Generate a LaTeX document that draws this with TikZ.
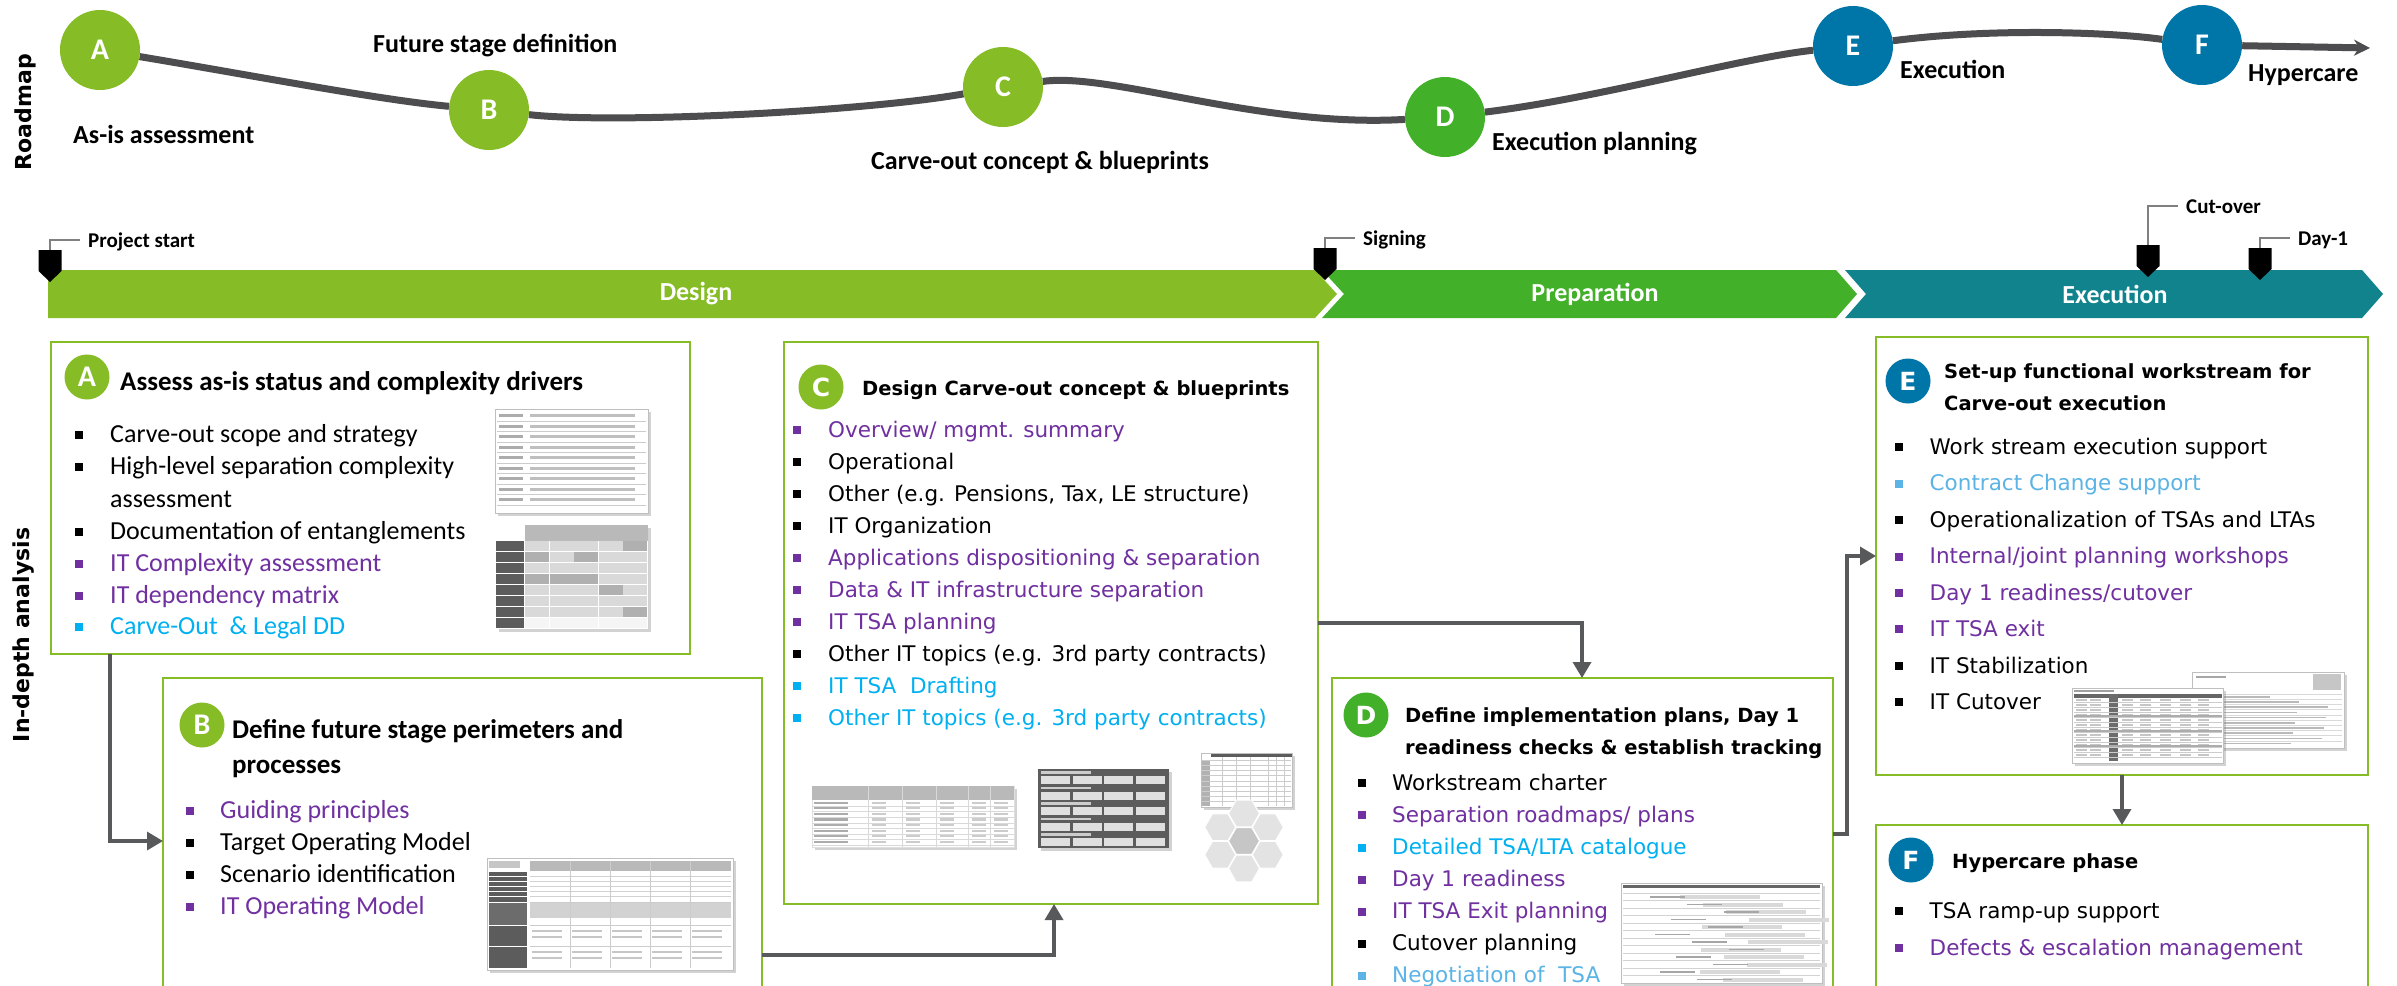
\documentclass[tikz,border=0pt]{standalone}
\usepackage{fontspec}
\setmainfont{Carlito}
\newfontfamily\verd{DejaVu Sans}
\usetikzlibrary{arrows.meta,shapes.geometric,shadows}
\definecolor{dgreen}{HTML}{86BC25}
\definecolor{mgreen}{HTML}{43B02A}
\definecolor{dblue}{HTML}{0076A8}
\definecolor{execteal}{HTML}{10838C}
\definecolor{purp}{HTML}{7030A0}
\definecolor{cyanb}{HTML}{00B0F0}
\definecolor{lblue}{HTML}{5BB4E5}
\definecolor{linegray}{HTML}{4D4D4F}
\definecolor{connc}{HTML}{58595B}
\colorlet{celll}{gray!30}
\colorlet{celld}{gray!62}
\colorlet{cellw}{gray!8}
\newcommand\bitem[7]{\node[bul, fill=#5] (#1b) at (#2,#4) {}; \node[#6, text=#5] (#1) at (#3,#4) {#7};}
\begin{document}
\begin{tikzpicture}[x=1pt,y=-1pt,
  sidetitle/.style={inner sep=0, font=\verd\bfseries\fontsize{22}{26}\selectfont},
  rmcirc/.style={circle, minimum size=80pt, inner sep=0, text=white, font=\bfseries\fontsize{30}{30}\selectfont},
  rmlabel/.style={anchor=west, inner sep=0, text height=18pt, text depth=3pt, font=\bfseries\fontsize{26}{30}\selectfont},
  roadline/.style={line width=7pt, draw=linegray},
  phase/.style={inner sep=0, text=white, font=\bfseries\fontsize{26}{30}\selectfont},
  mslabel/.style={anchor=west, inner sep=0, text height=15pt, text depth=3pt, font=\bfseries\fontsize{21}{24}\selectfont},
  leader/.style={draw=gray, line width=1.5pt},
  box/.style={draw=dgreen, line width=2pt, anchor=north west, inner sep=0, outer sep=0},
  conn/.style={draw=connc, line width=3.5pt, -{Triangle[length=16pt,width=18pt]}},
  lcirc/.style={circle, minimum size=45pt, inner sep=0, text=white},
  lcal/.style={lcirc, font=\bfseries\fontsize{30}{30}\selectfont},
  lver/.style={lcirc, font=\verd\bfseries\fontsize{25}{25}\selectfont},
  titleCal/.style={anchor=west, inner sep=0, text height=19pt, text depth=3pt, font=\bfseries\fontsize{27}{30}\selectfont},
  titleV/.style={anchor=west, inner sep=0, text height=14pt, text depth=2pt, font=\verd\bfseries\fontsize{19.5}{24}\selectfont},
  itCal/.style={anchor=west, inner sep=0, text height=18pt, text depth=3pt, font=\fontsize{26}{30}\selectfont},
  itV/.style={anchor=west, inner sep=0, text height=16pt, text depth=2pt, font=\verd\fontsize{21.5}{26}\selectfont},
  bul/.style={rectangle, minimum size=8pt, inner sep=0},
  thumb/.style={draw=gray!50, fill=white, line width=0.6pt, anchor=north west, inner sep=0,
     drop shadow={opacity=0.35, shadow xshift=3pt, shadow yshift=-3pt}},
  darkthumb/.style={fill=gray!72!black, anchor=north west, inner sep=0,
     drop shadow={opacity=0.35, shadow xshift=3pt, shadow yshift=-3pt}},
  hexa/.style={regular polygon, regular polygon sides=6, minimum size=31pt, inner sep=0, fill=gray!22, draw=white, line width=1pt}
]
\useasboundingbox (0,0) rectangle (2397,985);
\fill[white] (0,0) rectangle (2397,985);

% ---------- side titles
\node[sidetitle, rotate=90] (tRoad) at (25,112) {Roadmap};
\node[sidetitle, rotate=90] (tDepth) at (24,635) {In-depth analysis};

% ---------- roadmap
\node[rmcirc, fill=dgreen] (rA) at (100,50) {A};
\node[rmcirc, fill=dgreen] (rB) at (489,110) {B};
\node[rmcirc, fill=dgreen] (rC) at (1003,87) {C};
\node[rmcirc, fill=mgreen] (rD) at (1445,117) {D};
\node[rmcirc, fill=dblue] (rE) at (1853,46) {E};
\node[rmcirc, fill=dblue] (rF) at (2202,45) {F};
\coordinate (rEnd) at (2370,48);
\draw[roadline] (rA) .. controls (250,75) and (380,100) .. (rB);
\draw[roadline] (rB) .. controls (610,124) and (860,112) .. (rC);
\draw[roadline] (rC) .. controls (1110,72) and (1260,128) .. (rD);
\draw[roadline] (rD) .. controls (1600,98) and (1740,58) .. (rE);
\draw[roadline] (rE) .. controls (1990,28) and (2110,32) .. (rF);
\draw[roadline, -{Stealth[length=16pt,width=16pt]}] (rF) -- (rEnd);

\node[rmlabel] (lA) at (73,136) {As-is assessment};
\node[rmlabel] (lB) at (373,45) {Future stage definition};
\node[rmlabel] (lC) at (871,162) {Carve-out concept \& blueprints};
\node[rmlabel] (lD) at (1492,143) {Execution planning};
\node[rmlabel] (lE) at (1900,71) {Execution};
\node[rmlabel] (lF) at (2248,74) {Hypercare};

% ---------- phase bar
\fill[dgreen] (48,270) -- (1315,270) -- (1337,294) -- (1315,318) -- (48,318) -- cycle;
\fill[mgreen] (1322,270) -- (1836,270) -- (1857,294) -- (1836,318) -- (1322,318) -- (1344,294) -- cycle;
\fill[execteal] (1845,270) -- (2362,270) -- (2383,294) -- (2362,318) -- (1845,318) -- (1866,294) -- cycle;
\node[phase] (pDesign) at (696,294) {Design};
\node[phase] (pPrep) at (1595,294) {Preparation};
\node[phase] (pExec) at (2115,294) {Execution};

% ---------- milestones
\foreach \nm/\x/\yt/\yl/\lab in {ps/50/250/240/Project start, sg/1325/248/238/Signing, co/2148/245/206/Cut-over, d1/2260/248/238/Day-1}
{
  \fill[black] ({\x-11.5},\yt) -- ({\x+11.5},\yt) -- ({\x+11.5},{\yt+21}) -- (\x,{\yt+32}) -- ({\x-11.5},{\yt+21}) -- cycle;
  \draw[leader] (\x,\yt) -- (\x,\yl) -- ({\x+30},\yl);
  \node[mslabel] (m\nm) at ({\x+38},{\yl+1}) {\lab};
}

% ---------- boxes
\node[box, minimum width=639pt, minimum height=312pt] (boxA) at (51,342) {};
\node[box, minimum width=599pt, minimum height=330pt] (boxB) at (163,678) {};
\node[box, minimum width=534pt, minimum height=562pt] (boxC) at (784,342) {};
\node[box, minimum width=501pt, minimum height=330pt] (boxD) at (1332,678) {};
\node[box, minimum width=492pt, minimum height=438pt] (boxE) at (1876,337) {};
\node[box, minimum width=492pt, minimum height=180pt] (boxF) at (1876,825) {};

% ---------- connectors
\draw[conn] ([xshift=59pt]boxA.south west) |- (boxB.west |- 0,841);
\draw[conn] (boxB.east |- 0,955) -| (boxC.south -| 1054,0);
\draw[conn] (boxC.east |- 0,623) -| (boxD.north -| 1582,0);
\draw[conn] (boxD.east |- 0,834) -- ++(14,0) |- (boxE.west |- 0,556);
\draw[conn] (boxE.south -| 2122,0) -- (boxF.north -| 2122,0);

% ---------- box A
\node[lcal, fill=dgreen] (cA) at (87,377) {A};
\node[titleCal] (tA) at (120,382) {Assess as-is status and complexity drivers};
\bitem{a1}{79}{110}{435}{black}{itCal}{Carve-out scope and strategy}
\bitem{a2}{79}{110}{467}{black}{itCal}{High-level separation complexity}
\node[itCal] (a2c) at (110,499.5) {assessment};
\bitem{a3}{79}{110}{532}{black}{itCal}{Documentation of entanglements}
\bitem{a4}{79}{110}{563.5}{purp}{itCal}{IT Complexity assessment}
\bitem{a5}{79}{110}{596}{purp}{itCal}{IT dependency matrix}
\bitem{a6}{79}{110}{627}{cyanb}{itCal}{Carve-Out \ \& Legal DD}

% thumbnails A
\node[thumb, minimum width=153pt, minimum height=104pt] (thA1) at (495,409) {};
\foreach \k in {0,...,8}{
  \draw[gray!40, line width=0.5pt] (497,{421+\k*10.5}) -- (646,{421+\k*10.5});
  \fill[gray!65] (499,{414+\k*10.5}) rectangle ++(24,3);
  \fill[gray!50] (530,{414+\k*10.5}) rectangle ++(105,3);
}
\node[thumb, draw=none, minimum width=152pt, minimum height=104pt] (thA2) at (496,525) {};
\fill[gray!55] (525,525) rectangle (648,541);
\foreach \r/\a/\b/\c/\d/\e in {1/l/l/l/l/d, 2/d/l/d/l/l, 3/l/l/l/l/l, 4/d/d/d/l/l, 5/l/l/l/d/l, 6/l/l/l/l/l, 7/l/l/l/l/d, 8/w/w/w/w/w}{
  \fill[gray!72!black] (496,{541+(\r-1)*11}) rectangle (524,{551+(\r-1)*11});
  \fill[cell\a] (525,{541+(\r-1)*11}) rectangle ++(24,10);
  \fill[cell\b] (549.6,{541+(\r-1)*11}) rectangle ++(24,10);
  \fill[cell\c] (574.2,{541+(\r-1)*11}) rectangle ++(24,10);
  \fill[cell\d] (598.8,{541+(\r-1)*11}) rectangle ++(24,10);
  \fill[cell\e] (623.4,{541+(\r-1)*11}) rectangle ++(24,10);
}

% ---------- box B
\node[lcal, fill=dgreen] (cB) at (202,725) {B};
\node[titleCal] (tB1) at (232,730) {Define future stage perimeters and};
\node[titleCal] (tB2) at (232,765) {processes};
\bitem{b1}{190}{220}{811}{purp}{itCal}{Guiding principles}
\bitem{b2}{190}{220}{843}{black}{itCal}{Target Operating Model}
\bitem{b3}{190}{220}{875}{black}{itCal}{Scenario identification}
\bitem{b4}{190}{220}{907}{purp}{itCal}{IT Operating Model}

\node[thumb, minimum width=246pt, minimum height=112pt] (thB) at (487,858) {};
\fill[gray!72!black] (489,872) rectangle (527,968);
\fill[gray!45] (489,861) rectangle (520,868);
\fill[gray!55] (530,861) rectangle (731,871);
\foreach \yy in {876,881,886,891,896}{\draw[white, line width=0.6pt] (489,\yy) -- (527,\yy); \draw[gray!35, line width=0.5pt] (530,\yy) -- (731,\yy);}
\fill[gray!85!black] (489,902) rectangle (527,925);
\fill[gray!35] (530,902) rectangle (731,918);
\foreach \yy in {902,925,946}{\draw[white, line width=1pt] (489,\yy) -- (527,\yy); \draw[gray!40, line width=0.5pt] (530,\yy) -- (731,\yy);}
\foreach \xx in {570,610,650,690}{\draw[gray!40, line width=0.5pt] (\xx,861) -- (\xx,968);}
\foreach \yy in {930,936,951,957}{\foreach \xx in {532,572,612,652,692}{\fill[gray!45] (\xx,\yy) rectangle ++(30,2);}}

% ---------- box C
\node[lver, fill=dgreen] (cC) at (821,387) {C};
\node[titleV] (tC) at (862,389) {Design Carve-out concept \& blueprints};
\bitem{c1}{797}{828}{430}{purp}{itV}{Overview/ mgmt. summary}
\bitem{c2}{797}{828}{462}{black}{itV}{Operational}
\bitem{c3}{797}{828}{494}{black}{itV}{Other (e.g. Pensions, Tax, LE structure)}
\bitem{c4}{797}{828}{526}{black}{itV}{IT Organization}
\bitem{c5}{797}{828}{558}{purp}{itV}{Applications dispositioning \& separation}
\bitem{c6}{797}{828}{590}{purp}{itV}{Data \& IT infrastructure separation}
\bitem{c7}{797}{828}{622}{purp}{itV}{IT TSA planning}
\bitem{c8}{797}{828}{654}{black}{itV}{Other IT topics (e.g. 3rd party contracts)}
\bitem{c9}{797}{828}{686}{cyanb}{itV}{IT TSA \ Drafting}
\bitem{c10}{797}{828}{718}{cyanb}{itV}{Other IT topics (e.g. 3rd party contracts)}

% thumbnails C
\node[thumb, draw=gray!25, minimum width=202pt, minimum height=61pt] (thC1) at (812,786) {};
\fill[gray!55] (812,786) rectangle (1014,800);
\foreach \k in {0,...,7}{
  \draw[gray!30, line width=0.5pt] (812,{806+\k*5.6}) -- (1014,{806+\k*5.6});
  \fill[gray!65] (814,{801.5+\k*5.6}) rectangle ++(34,2.2);
  \foreach \xx in {872,906,940,972,994}{\fill[gray!40] (\xx,{801.5+\k*5.6}) rectangle ++(14,2.2);}
}
\foreach \xx in {868,902,936,968,990}{\draw[gray!30, line width=0.5pt] (\xx,786) -- (\xx,847);}

\node[darkthumb, minimum width=131pt, minimum height=79pt] (thC2) at (1038,769) {};
\foreach \s in {0,...,4}{
  \fill[gray!40] (1041,{771+\s*15.6}) rectangle ++(50,2.5);
  \foreach \j in {0,...,3}{\fill[gray!25] ({1041+\j*31.6},{776+\s*15.6}) rectangle ++(29,8);}
}
\node[thumb, minimum width=91pt, minimum height=54pt] (thC3) at (1201,753) {};
\fill[gray!72!black] (1211,754) rectangle (1292,757);
\fill[gray!60] (1202,760) rectangle (1210,806);
\foreach \k in {0,...,8}{\draw[gray!40, line width=0.4pt] (1202,{760+\k*5.2}) -- (1291,{760+\k*5.2});}
\foreach \xx in {1222,1236,1250,1268,1276,1284}{\draw[gray!40, line width=0.4pt] (\xx,757) -- (\xx,806);}
\node[hexa, fill=gray!45] (hx0) at (1244,841) {};
\foreach \ang/\nm in {90/1,30/2,-30/3,-90/4,-150/5,150/6}{
  \node[hexa] (hx\nm) at ([shift={(\ang:27.5)}]1244,841) {};
}

% ---------- box D
\node[lver, fill=mgreen] (cD) at (1366,715) {D};
\node[titleV] (tD1) at (1405,716) {Define implementation plans, Day 1};
\node[titleV] (tD2) at (1405,748) {readiness checks \& establish tracking};
\bitem{d1}{1362}{1392}{783}{black}{itV}{Workstream charter}
\bitem{d2}{1362}{1392}{815}{purp}{itV}{Separation roadmaps/ plans}
\bitem{d3}{1362}{1392}{847.5}{cyanb}{itV}{Detailed TSA/LTA catalogue}
\bitem{d4}{1362}{1392}{879.5}{purp}{itV}{Day 1 readiness}
\bitem{d5}{1362}{1392}{911.5}{purp}{itV}{IT TSA Exit planning}
\bitem{d6}{1362}{1392}{943.5}{black}{itV}{Cutover planning}
\bitem{d7}{1362}{1392}{975.5}{lblue}{itV}{Negotiation of \ TSA}

\node[thumb, minimum width=201pt, minimum height=100pt] (thD) at (1621,883) {};
\fill[gray!80!black] (1623,885) rectangle (1820,888);
\foreach \k in {0,...,11}{
  \draw[gray!35, line width=0.4pt] (1623,{893+\k*7.5}) -- (1820,{893+\k*7.5});
  \fill[gray!30] ({1680+mod(\k*23,70)},{895+\k*7.5}) rectangle ++(80,4);
  \fill[gray!70] ({1650+mod(\k*37,90)},{896+\k*7.5}) rectangle ++(35,1.6);
}

% ---------- box E
\node[lver, fill=dblue] (cE) at (1908,381) {E};
\node[titleV] (tE1) at (1944,372) {Set-up functional workstream for};
\node[titleV] (tE2) at (1944,404.5) {Carve-out execution};
\bitem{e1}{1899}{1929.5}{447}{black}{itV}{Work stream execution support}
\bitem{e2}{1899}{1929.5}{483.5}{lblue}{itV}{Contract Change support}
\bitem{e3}{1899}{1929.5}{520}{black}{itV}{Operationalization of TSAs and LTAs}
\bitem{e4}{1899}{1929.5}{556.5}{purp}{itV}{Internal/joint planning workshops}
\bitem{e5}{1899}{1929.5}{593}{purp}{itV}{Day 1 readiness/cutover}
\bitem{e6}{1899}{1929.5}{629}{purp}{itV}{IT TSA exit}
\bitem{e7}{1899}{1929.5}{666}{black}{itV}{IT Stabilization}
\bitem{e8}{1899}{1929.5}{702}{black}{itV}{IT Cutover}

\node[thumb, minimum width=152pt, minimum height=76pt] (thE1) at (2192,672) {};
\fill[gray!70] (2196,676) rectangle ++(30,2);
\fill[gray!45] (2313,674) rectangle (2341,690);
\foreach \k in {0,...,9}{
  \draw[gray!30, line width=0.4pt] (2194,{694+\k*5.2}) -- (2342,{694+\k*5.2});
  \fill[gray!55] (2220,{696+\k*5.2}) rectangle ++({50+mod(\k*29,60)},1.5);
}
\node[thumb, minimum width=151pt, minimum height=75pt] (thE2) at (2072,688) {};
\fill[gray!75] (2074,690) rectangle ++(40,2);
\fill[gray!80!black] (2074,694) rectangle (2222,698);
\fill[gray!85!black] (2109,694) rectangle (2118,761);
\foreach \k in {0,...,11}{
  \draw[gray!40, line width=0.4pt] (2074,{702+\k*5}) -- (2222,{702+\k*5});
  \foreach \xx in {2076,2090,2122,2140,2160,2180,2198}{\fill[gray!45] (\xx,{699+\k*5}) rectangle ++(11,1.6);}
}
\foreach \k in {3,6,9}{\fill[gray!65] (2074,{700+\k*5}) rectangle (2222,{702+\k*5});}

% ---------- box F
\node[lver, fill=dblue] (cF) at (1911,860) {F};
\node[titleV] (tF) at (1952,862) {Hypercare phase};
\bitem{f1}{1899}{1929.5}{911}{black}{itV}{TSA ramp-up support}
\bitem{f2}{1899}{1929.5}{948}{purp}{itV}{Defects \& escalation management}
\end{tikzpicture}
\end{document}
